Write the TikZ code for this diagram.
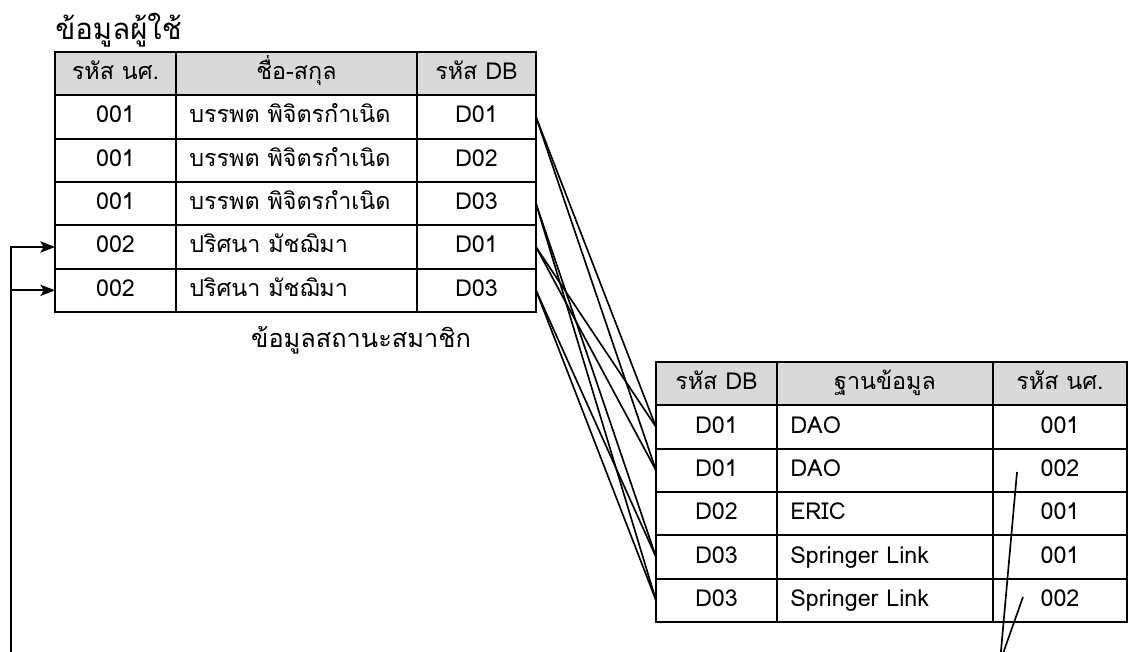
\documentclass[tikz,border=0pt]{standalone}
\usepackage{fontspec}
\setmainfont[Script=Thai]{Loma}
\usetikzlibrary{positioning,arrows.meta}

\begin{document}
\begin{tikzpicture}[
    x=0.75pt,
    y=-0.75pt,
    font=\fontsize{17.5}{20}\selectfont,
    cell/.style={
        draw,
        line width=1.5pt,
        outer sep=0pt,
        inner sep=0pt,
        minimum height=32.5pt,
        text height=13pt,
        text depth=4pt,
        align=center
    },
    head/.style={cell, fill=black!15},
    uid/.style={minimum width=90.75pt},
    uname/.style={minimum width=180.75pt, text width=160.75pt, inner xsep=10pt},
    udb/.style={minimum width=89.25pt},
    mdb/.style={minimum width=90.75pt},
    mname/.style={minimum width=162pt, text width=142pt, inner xsep=10pt},
    mid/.style={minimum width=100.5pt},
    link/.style={line width=1.25pt},
    arrow/.style={-{Stealth[length=11pt,width=8.5pt,inset=2.5pt]}, line width=1.25pt}
]
\useasboundingbox (0,0) rectangle (1128,652);

% ============================================================
% ตารางข้อมูลผู้ใช้
% ============================================================
\node[anchor=base west, inner sep=0pt, font=\fontsize{22}{26}\selectfont] (utitle) at (55,40) {ข้อมูลผู้ใช้};

\node[head, uid, anchor=north west] (uh1) at (55,52) {รหัส นศ.};
\node[head, uname, right=0pt of uh1] (uh2) {ชื่อ-สกุล};
\node[head, udb, right=0pt of uh2] (uh3) {รหัส DB};

\node[cell, uid, below=0pt of uh1] (u11) {001};
\node[cell, uname, align=left, right=0pt of u11] (u12) {บรรพต พิจิตรกำเนิด};
\node[cell, udb, right=0pt of u12] (u13) {D01};

\node[cell, uid, below=0pt of u11] (u21) {001};
\node[cell, uname, align=left, right=0pt of u21] (u22) {บรรพต พิจิตรกำเนิด};
\node[cell, udb, right=0pt of u22] (u23) {D02};

\node[cell, uid, below=0pt of u21] (u31) {001};
\node[cell, uname, align=left, right=0pt of u31] (u32) {บรรพต พิจิตรกำเนิด};
\node[cell, udb, right=0pt of u32] (u33) {D03};

\node[cell, uid, below=0pt of u31] (u41) {002};
\node[cell, uname, align=left, right=0pt of u41] (u42) {ปริศนา มัชฌิมา};
\node[cell, udb, right=0pt of u42] (u43) {D01};

\node[cell, uid, below=0pt of u41] (u51) {002};
\node[cell, uname, align=left, right=0pt of u51] (u52) {ปริศนา มัชฌิมา};
\node[cell, udb, right=0pt of u52] (u53) {D03};

\node[anchor=base, inner sep=0pt, font=\fontsize{19}{23}\selectfont] (mcaption) at (361,348) {ข้อมูลสถานะสมาชิก};

% ============================================================
% ตารางสถานะสมาชิก
% ============================================================
\node[head, mdb, anchor=north west] (mh1) at (656,362) {รหัส DB};
\node[head, mname, right=0pt of mh1] (mh2) {ฐานข้อมูล};
\node[head, mid, right=0pt of mh2] (mh3) {รหัส นศ.};

\node[cell, mdb, below=0pt of mh1] (m11) {D01};
\node[cell, mname, align=left, right=0pt of m11] (m12) {DAO};
\node[cell, mid, right=0pt of m12] (m13) {001};

\node[cell, mdb, below=0pt of m11] (m21) {D01};
\node[cell, mname, align=left, right=0pt of m21] (m22) {DAO};
\node[cell, mid, right=0pt of m22] (m23) {002};

\node[cell, mdb, below=0pt of m21] (m31) {D02};
\node[cell, mname, align=left, right=0pt of m31] (m32) {ERIC};
\node[cell, mid, right=0pt of m32] (m33) {001};

\node[cell, mdb, below=0pt of m31] (m41) {D03};
\node[cell, mname, align=left, right=0pt of m41] (m42) {Springer Link};
\node[cell, mid, right=0pt of m42] (m43) {001};

\node[cell, mdb, below=0pt of m41] (m51) {D03};
\node[cell, mname, align=left, right=0pt of m51] (m52) {Springer Link};
\node[cell, mid, right=0pt of m52] (m53) {002};

% ============================================================
% เส้นเชื่อมรหัส DB
% ============================================================
\draw[link] (u13.east) -- (m11.west);
\draw[link] (u13.east) -- (m21.west);
\draw[link] (u43.east) -- (m11.west);
\draw[link] (u43.east) -- (m21.west);
\draw[link] (u33.east) -- (m41.west);
\draw[link] (u33.east) -- (m51.west);
\draw[link] (u53.east) -- (m41.west);
\draw[link] (u53.east) -- (m51.west);

% ============================================================
% เส้นย้อนกลับรหัส นศ.
% ============================================================
\coordinate (vtip) at (1000,662);
\coordinate (m23in) at (1017,472);
\coordinate (m53in) at (1023,597);
\draw[link] (m23in) -- (vtip) -- (m53in);

\coordinate (loop) at (11,662);
\draw[arrow] (loop) |- (u41.west);
\draw[arrow] (loop) |- (u51.west);

\end{tikzpicture}
\end{document}
